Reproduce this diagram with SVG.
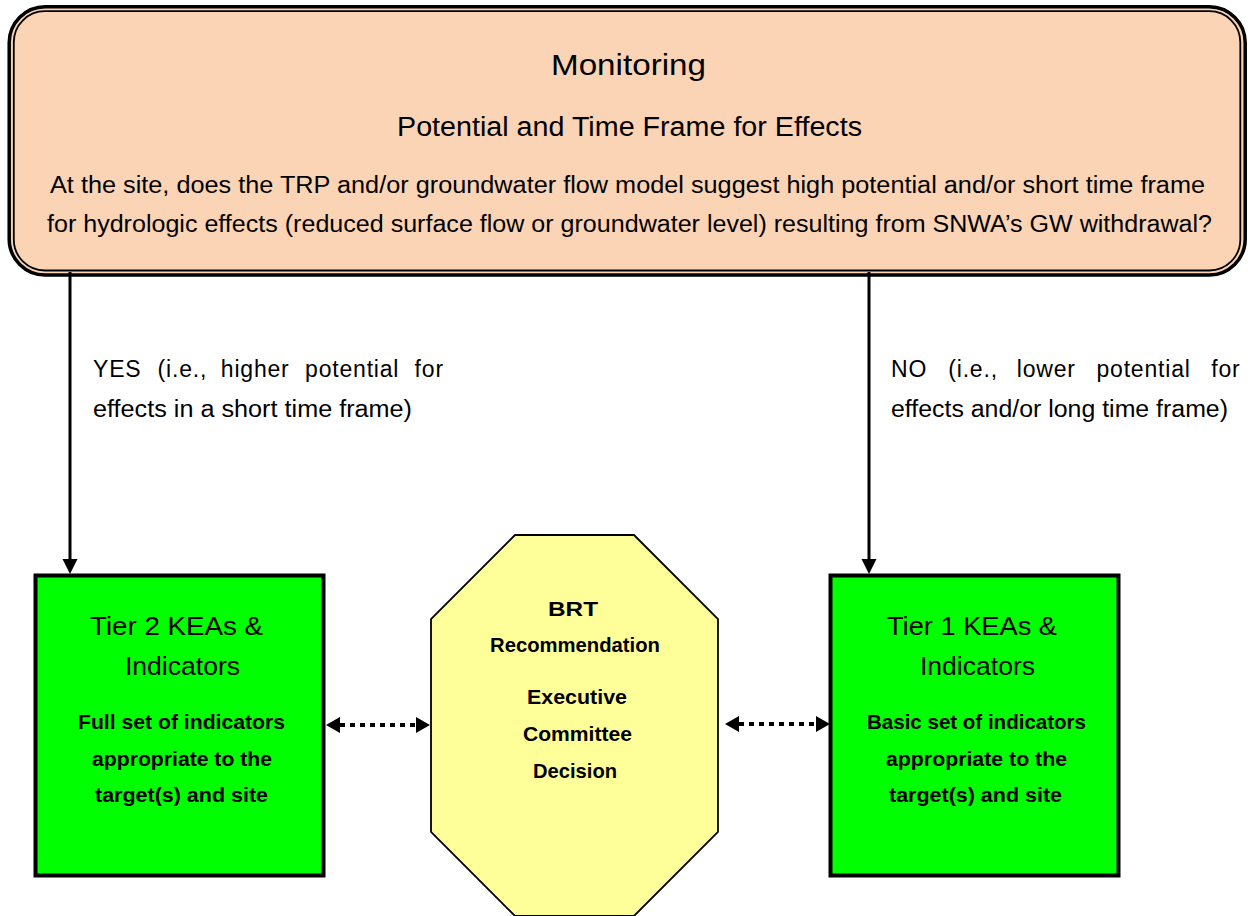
<svg xmlns="http://www.w3.org/2000/svg" width="1248" height="916" viewBox="0 0 1248 916">
  <style>
    text { font-family: "Liberation Sans", Arial, sans-serif; fill: #000; }
    .reg { font-weight: normal; }
    .bold { font-weight: bold; }
    .box { fill: #00FF00; stroke: #000; stroke-width: 4; }
    .oct { fill: #FFFF99; stroke: #000; stroke-width: 1.8; }
    .solid { stroke: #000; stroke-width: 3; fill: none; }
    .dotted { stroke: #000; stroke-width: 4; stroke-dasharray: 5 5; fill: none; }
  </style>
  <defs>
    <marker id="head" markerUnits="userSpaceOnUse" markerWidth="16" markerHeight="16" refX="7" refY="7.5" orient="auto">
      <path d="M0,0 L15,7.5 L0,15 z" fill="#000"/>
    </marker>
    <marker id="dhead" markerUnits="userSpaceOnUse" markerWidth="16" markerHeight="18" refX="0" refY="8" orient="auto-start-reverse">
      <path d="M0,0 L14,8 L0,16 z" fill="#000"/>
    </marker>
  </defs>

  <g id="monitoring">
    <rect x="9.2" y="6.7" width="1236" height="268.3" rx="36" ry="36" fill="#FAD4B4" stroke="#000" stroke-width="3.5"/>
    <rect x="13.8" y="11.2" width="1226.5" height="259.3" rx="31" ry="31" fill="none" stroke="#000" stroke-width="1.8"/>
    <text class="reg" x="551" y="75" font-size="30" textLength="155" lengthAdjust="spacingAndGlyphs">Monitoring</text>
    <text class="reg" x="397" y="136" font-size="27" textLength="465" lengthAdjust="spacingAndGlyphs">Potential and Time Frame for Effects</text>
    <text class="reg" x="50" y="193" font-size="23" textLength="1155" lengthAdjust="spacingAndGlyphs">At the site, does the TRP and/or groundwater flow model suggest high potential and/or short time frame</text>
    <text class="reg" x="47" y="232" font-size="23" textLength="1165" lengthAdjust="spacingAndGlyphs">for hydrologic effects (reduced surface flow or groundwater level) resulting from SNWA’s GW withdrawal?</text>
  </g>

  <g id="connectors">
    <path class="solid" d="M70,272 L70,566" marker-end="url(#head)"/>
    <path class="solid" d="M869,272 L869,566" marker-end="url(#head)"/>
    <path class="dotted" d="M340,725 L416,725" marker-start="url(#dhead)" marker-end="url(#dhead)"/>
    <path class="dotted" d="M739,724 L816,724" marker-start="url(#dhead)" marker-end="url(#dhead)"/>
  </g>

  <g id="label-yes">
    <text class="reg" y="377" font-size="23" letter-spacing="0.8"><tspan x="93">YES</tspan> <tspan x="157.6">(i.e.,</tspan> <tspan x="220.8">higher</tspan> <tspan x="305.1">potential</tspan> <tspan x="414.6">for</tspan></text>
    <text class="reg" x="93" y="417" font-size="23" textLength="319" lengthAdjust="spacingAndGlyphs">effects in a short time frame)</text>
  </g>
  <g id="label-no">
    <text class="reg" y="377" font-size="23" letter-spacing="0.8"><tspan x="891">NO</tspan> <tspan x="948.3">(i.e.,</tspan> <tspan x="1016.8">lower</tspan> <tspan x="1096.5">potential</tspan> <tspan x="1211.3">for</tspan></text>
    <text class="reg" x="891" y="417" font-size="23" textLength="337" lengthAdjust="spacingAndGlyphs">effects and/or long time frame)</text>
  </g>

  <g id="tier2">
    <rect class="box" x="35.5" y="575.5" width="288" height="300"/>
    <text class="reg" x="90" y="635" font-size="26" textLength="173" lengthAdjust="spacingAndGlyphs">Tier 2 KEAs &amp;</text>
    <text class="reg" x="125" y="675" font-size="26" textLength="115" lengthAdjust="spacingAndGlyphs">Indicators</text>
    <text class="bold" x="78" y="729" font-size="21" textLength="207" lengthAdjust="spacingAndGlyphs">Full set of indicators</text>
    <text class="bold" x="92" y="766" font-size="21" textLength="180" lengthAdjust="spacingAndGlyphs">appropriate to the</text>
    <text class="bold" x="95" y="802" font-size="21" textLength="173" lengthAdjust="spacingAndGlyphs">target(s) and site</text>
  </g>

  <g id="decision">
    <polygon class="oct" points="515,535 634,535 718,619 718,832 634,916 515,916 431,832 431,619"/>
    <text class="bold" x="548" y="616" font-size="21" textLength="50" lengthAdjust="spacingAndGlyphs">BRT</text>
    <text class="bold" x="490" y="652" font-size="21" textLength="170" lengthAdjust="spacingAndGlyphs">Recommendation</text>
    <text class="bold" x="527" y="704" font-size="21" textLength="100" lengthAdjust="spacingAndGlyphs">Executive</text>
    <text class="bold" x="523" y="741" font-size="21" textLength="109" lengthAdjust="spacingAndGlyphs">Committee</text>
    <text class="bold" x="533" y="778" font-size="21" textLength="84" lengthAdjust="spacingAndGlyphs">Decision</text>
  </g>

  <g id="tier1">
    <rect class="box" x="830.5" y="575.5" width="288" height="300"/>
    <text class="reg" x="887" y="635" font-size="26" textLength="170" lengthAdjust="spacingAndGlyphs">Tier 1 KEAs &amp;</text>
    <text class="reg" x="920" y="675" font-size="26" textLength="115" lengthAdjust="spacingAndGlyphs">Indicators</text>
    <text class="bold" x="867" y="729" font-size="21" textLength="219" lengthAdjust="spacingAndGlyphs">Basic set of indicators</text>
    <text class="bold" x="886" y="766" font-size="21" textLength="181" lengthAdjust="spacingAndGlyphs">appropriate to the</text>
    <text class="bold" x="889" y="802" font-size="21" textLength="173" lengthAdjust="spacingAndGlyphs">target(s) and site</text>
  </g>
</svg>
